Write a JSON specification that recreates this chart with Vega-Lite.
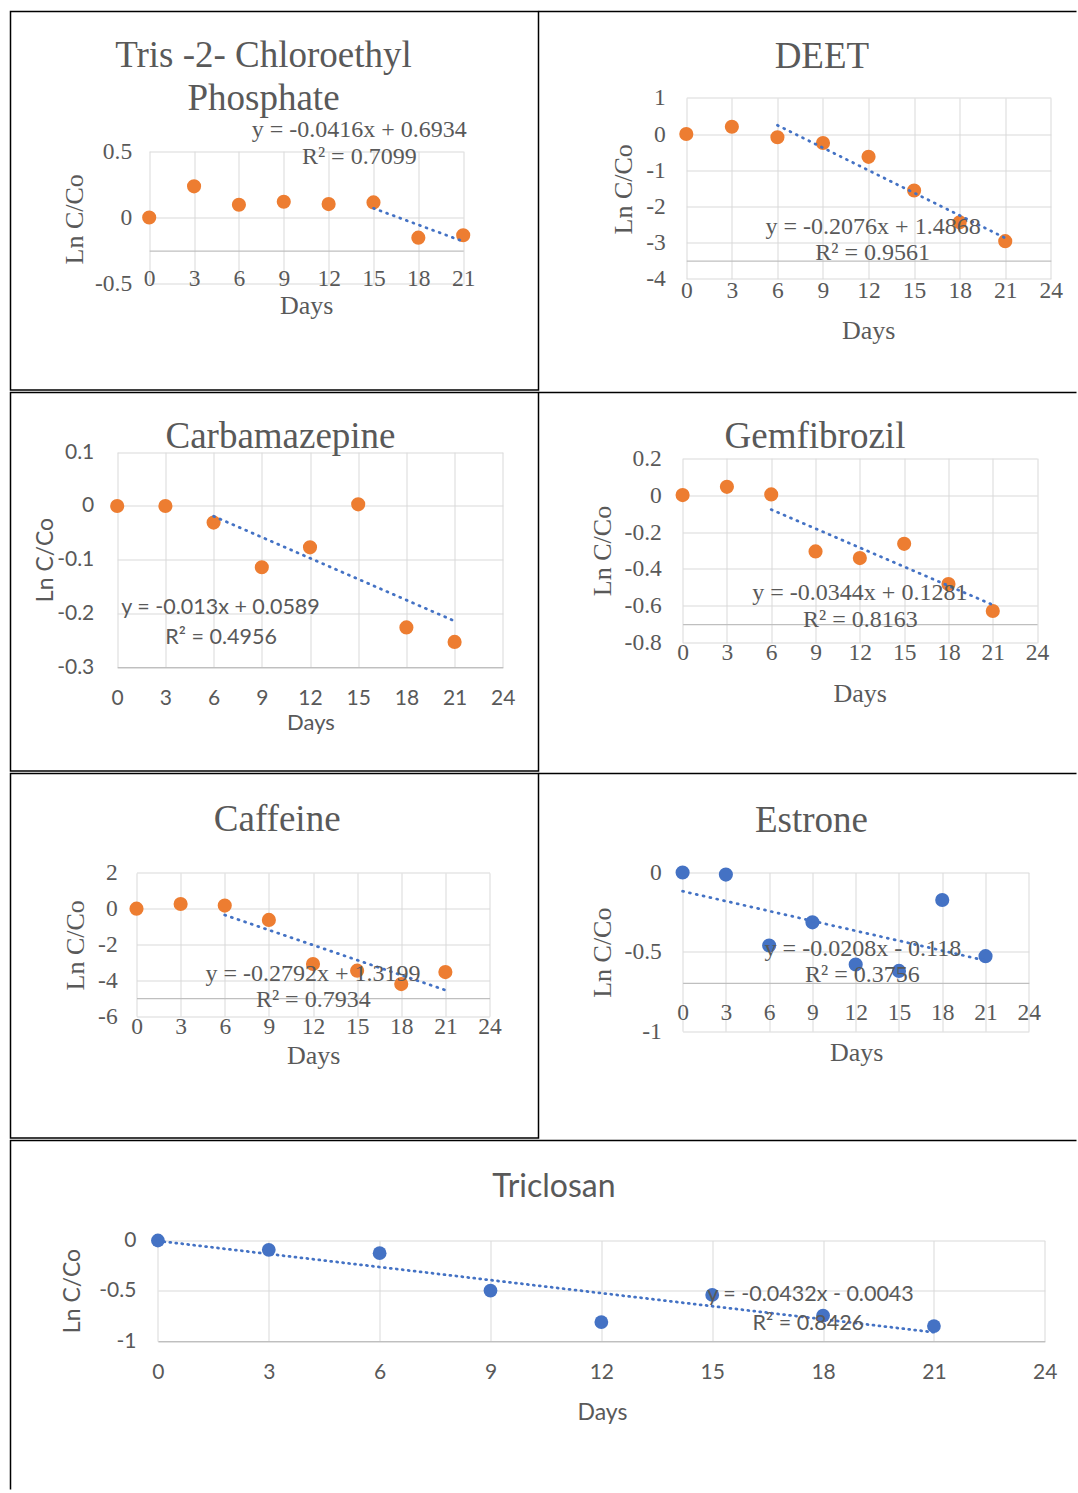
{
"$schema": "https://vega.github.io/schema/vega-lite/v6.json",
"padding": {"left": 9.5, "top": 10.5, "right": 0, "bottom": 0},
"background": "white",
"spacing": 0,
"vconcat": [
{"hconcat": [
{"width": 528, "height": 378.5,
 "view": {"stroke": "black", "strokeWidth": 1.5},
 "title": {"text": ["Tris -2- Chloroethyl", "Phosphate"], "anchor": "start", "frame": "group", "align": "center", "baseline": "alphabetic", "dx": 253, "dy": 136, "offset": 0, "lineHeight": 43.3, "font": "Liberation Serif", "fontSize": 37, "fontWeight": "normal", "color": "#595959"},
 "layer": [
  {"data": {"values": [{"day":0,"v":0},{"day":3,"v":0.235},{"day":6,"v":0.096},{"day":9,"v":0.119},{"day":12,"v":0.101},{"day":15,"v":0.114},{"day":18,"v":-0.152},{"day":21,"v":-0.134}]},
   "mark": {"type": "circle", "size": 200, "color": "#ED7D31", "opacity": 1},
   "encoding": {
    "x": {"field": "day", "type": "quantitative", "scale": {"domain": [0, 21], "range": [138.7, 452.7], "nice": false, "zero": false},
          "axis": {"orient": "top", "offset": -239.2, "values": [0,3,6,9,12,15,18,21], "format": "~g", "labelPadding": -28, "labelFont": "Liberation Serif", "labelFontSize": 23.5, "title": "Days", "titleX": 295.7, "titleY": 54.8, "titleFont": "Liberation Serif", "titleFontSize": 26}},
    "y": {"field": "v", "type": "quantitative", "scale": {"domain": [-0.5, 0.5], "range": [272.3, 139.7], "nice": false, "zero": false},
          "axis": {"orient": "left", "offset": -138.7, "values": [-0.5, 0, 0.5], "format": "~g", "labelPadding": 17.5, "labelFont": "Liberation Serif", "labelFontSize": 23.5, "title": "Ln C/Co", "titleX": -74.7, "titleY": 207.3, "titleFont": "Liberation Serif", "titleFontSize": 26}}
   }},
  {"data": {"values": [{"day":15,"v":0.0694},{"day":21,"v":-0.1802}]},
   "mark": {"type": "line", "color": "#4472C4", "strokeWidth": 2.75, "strokeDash": [1, 6], "strokeCap": "round"},
   "encoding": {
    "x": {"field": "day", "type": "quantitative", "scale": {"domain": [0, 21], "range": [138.7, 452.7], "nice": false, "zero": false}},
    "y": {"field": "v", "type": "quantitative", "scale": {"domain": [-0.5, 0.5], "range": [272.3, 139.7], "nice": false, "zero": false}}
   }},
  {"data": {"values": [{"day":14.05,"v":0.657,"label":"y = -0.0416x + 0.6934"},{"day":14.05,"v":0.455,"label":"R² = 0.7099"}]},
   "mark": {"type": "text", "font": "Liberation Serif", "fontSize": 24, "color": "#595959", "align": "center", "baseline": "middle"},
   "encoding": {
    "x": {"field": "day", "type": "quantitative", "scale": {"domain": [0, 21], "range": [138.7, 452.7], "nice": false, "zero": false}},
    "y": {"field": "v", "type": "quantitative", "scale": {"domain": [-0.5, 0.5], "range": [272.3, 139.7], "nice": false, "zero": false}},
    "text": {"field": "label"}
   }}
 ]},
{"width": 538, "height": 378.5,
 "view": {"stroke": "black", "strokeWidth": 1.5, "strokeDash": [538, 3000]},
 "title": {"text": "DEET", "anchor": "start", "frame": "group", "align": "center", "baseline": "alphabetic", "dx": 283.4, "dy": 93.3, "offset": 0, "font": "Liberation Serif", "fontSize": 37, "fontWeight": "normal", "color": "#595959"},
 "layer": [
  {"data": {"values": [{"day":0,"v":0},{"day":3,"v":0.2},{"day":6,"v":-0.09},{"day":9,"v":-0.25},{"day":12,"v":-0.63},{"day":15,"v":-1.56},{"day":18,"v":-2.44},{"day":21,"v":-2.96}]},
   "mark": {"type": "circle", "size": 200, "color": "#ED7D31", "opacity": 1},
   "encoding": {
    "x": {"field": "day", "type": "quantitative", "scale": {"domain": [0, 24], "range": [147.8, 512.3], "nice": false, "zero": false},
          "axis": {"orient": "top", "offset": -249.2, "values": [0,3,6,9,12,15,18,21,24], "format": "~g", "labelPadding": -29.8, "labelFont": "Liberation Serif", "labelFontSize": 23.5, "title": "Days", "titleX": 329.7, "titleY": 70, "titleFont": "Liberation Serif", "titleFontSize": 26}},
    "y": {"field": "v", "type": "quantitative", "scale": {"domain": [-4, 1], "range": [267.3, 86.3], "nice": false, "zero": false},
          "axis": {"orient": "left", "offset": -147.8, "values": [-4,-3,-2,-1,0,1], "format": "~g", "labelPadding": 21, "labelFont": "Liberation Serif", "labelFontSize": 23.5, "title": "Ln C/Co", "titleX": -62.8, "titleY": 177.3, "titleFont": "Liberation Serif", "titleFontSize": 26}}
   }},
  {"data": {"values": [{"day":6,"v":0.2412},{"day":21,"v":-2.8728}]},
   "mark": {"type": "line", "color": "#4472C4", "strokeWidth": 2.75, "strokeDash": [1, 6], "strokeCap": "round"},
   "encoding": {
    "x": {"field": "day", "type": "quantitative", "scale": {"domain": [0, 24], "range": [147.8, 512.3], "nice": false, "zero": false}},
    "y": {"field": "v", "type": "quantitative", "scale": {"domain": [-4, 1], "range": [267.3, 86.3], "nice": false, "zero": false}}
   }},
  {"data": {"values": [{"day":12.3,"v":-2.57,"label":"y = -0.2076x + 1.4868"},{"day":12.27,"v":-3.28,"label":"R² = 0.9561"}]},
   "mark": {"type": "text", "font": "Liberation Serif", "fontSize": 24, "color": "#595959", "align": "center", "baseline": "middle"},
   "encoding": {
    "x": {"field": "day", "type": "quantitative", "scale": {"domain": [0, 24], "range": [147.8, 512.3], "nice": false, "zero": false}},
    "y": {"field": "v", "type": "quantitative", "scale": {"domain": [-4, 1], "range": [267.3, 86.3], "nice": false, "zero": false}},
    "text": {"field": "label"}
   }}
 ]}
], "spacing": 0, "bounds": "flush"},
{"hconcat": [
{"width": 528, "height": 378.5,
 "view": {"stroke": "black", "strokeWidth": 1.5},
 "title": {"text": "Carbamazepine", "anchor": "start", "frame": "group", "align": "center", "baseline": "alphabetic", "dx": 270, "dy": 92.7, "offset": 0, "font": "Liberation Serif", "fontSize": 37, "fontWeight": "normal", "color": "#595959"},
 "layer": [
  {"data": {"values": [{"day":0,"v":0},{"day":3,"v":0},{"day":6,"v":-0.031},{"day":9,"v":-0.114},{"day":12,"v":-0.077},{"day":15,"v":0.003},{"day":18,"v":-0.226},{"day":21,"v":-0.253}]},
   "mark": {"type": "circle", "size": 200, "color": "#ED7D31", "opacity": 1},
   "encoding": {
    "x": {"field": "day", "type": "quantitative", "scale": {"domain": [0, 24], "range": [106.7, 492.3], "nice": false, "zero": false},
          "axis": {"orient": "top", "offset": -274.7, "values": [0,3,6,9,12,15,18,21,24], "format": "~g", "labelPadding": -31.6, "labelFont": "Lato", "labelFontSize": 21, "title": "Days", "titleX": 300, "titleY": 55, "titleFont": "Lato", "titleFontSize": 22}},
    "y": {"field": "v", "type": "quantitative", "scale": {"domain": [-0.3, 0.1], "range": [274.7, 59.7], "nice": false, "zero": false},
          "axis": {"orient": "left", "offset": -106.7, "values": [-0.3,-0.2,-0.1,0,0.1], "format": "~g", "labelPadding": 23.4, "labelFont": "Lato", "labelFontSize": 21, "title": "Ln C/Co", "titleX": -71.7, "titleY": 167, "titleFont": "Lato", "titleFontSize": 23}}
   }},
  {"data": {"values": [{"day":6,"v":-0.0191},{"day":21,"v":-0.2141}]},
   "mark": {"type": "line", "color": "#4472C4", "strokeWidth": 2.75, "strokeDash": [1, 6], "strokeCap": "round"},
   "encoding": {
    "x": {"field": "day", "type": "quantitative", "scale": {"domain": [0, 24], "range": [106.7, 492.3], "nice": false, "zero": false}},
    "y": {"field": "v", "type": "quantitative", "scale": {"domain": [-0.3, 0.1], "range": [274.7, 59.7], "nice": false, "zero": false}}
   }},
  {"data": {"values": [{"day":6.43,"v":-0.189,"label":"y = -0.013x + 0.0589"},{"day":6.47,"v":-0.245,"label":"R² = 0.4956"}]},
   "mark": {"type": "text", "font": "Lato", "fontSize": 21.5, "color": "#595959", "align": "center", "baseline": "middle"},
   "encoding": {
    "x": {"field": "day", "type": "quantitative", "scale": {"domain": [0, 24], "range": [106.7, 492.3], "nice": false, "zero": false}},
    "y": {"field": "v", "type": "quantitative", "scale": {"domain": [-0.3, 0.1], "range": [274.7, 59.7], "nice": false, "zero": false}},
    "text": {"field": "label"}
   }}
 ]},
{"width": 538, "height": 378.5,
 "view": {"stroke": "black", "strokeWidth": 1.5, "strokeDash": [538, 3000]},
 "title": {"text": "Gemfibrozil", "anchor": "start", "frame": "group", "align": "center", "baseline": "alphabetic", "dx": 276.5, "dy": 92.7, "offset": 0, "font": "Liberation Serif", "fontSize": 37, "fontWeight": "normal", "color": "#595959"},
 "layer": [
  {"data": {"values": [{"day":0,"v":0},{"day":3,"v":0.045},{"day":6,"v":0.004},{"day":9,"v":-0.305},{"day":12,"v":-0.341},{"day":15,"v":-0.264},{"day":18,"v":-0.482},{"day":21,"v":-0.628}]},
   "mark": {"type": "circle", "size": 200, "color": "#ED7D31", "opacity": 1},
   "encoding": {
    "x": {"field": "day", "type": "quantitative", "scale": {"domain": [0, 24], "range": [144.1, 498.6], "nice": false, "zero": false},
          "axis": {"orient": "top", "offset": -231.7, "values": [0,3,6,9,12,15,18,21,24], "format": "~g", "labelPadding": -28.6, "labelFont": "Liberation Serif", "labelFontSize": 23.5, "title": "Days", "titleX": 321.2, "titleY": 69, "titleFont": "Liberation Serif", "titleFontSize": 26}},
    "y": {"field": "v", "type": "quantitative", "scale": {"domain": [-0.8, 0.2], "range": [250.3, 65.7], "nice": false, "zero": false},
          "axis": {"orient": "left", "offset": -144.1, "values": [-0.8,-0.6,-0.4,-0.2,0,0.2], "format": "~g", "labelPadding": 21.3, "labelFont": "Liberation Serif", "labelFontSize": 23.5, "title": "Ln C/Co", "titleX": -80.3, "titleY": 158, "titleFont": "Liberation Serif", "titleFontSize": 26}}
   }},
  {"data": {"values": [{"day":6,"v":-0.0783},{"day":21,"v":-0.5943}]},
   "mark": {"type": "line", "color": "#4472C4", "strokeWidth": 2.75, "strokeDash": [1, 6], "strokeCap": "round"},
   "encoding": {
    "x": {"field": "day", "type": "quantitative", "scale": {"domain": [0, 24], "range": [144.1, 498.6], "nice": false, "zero": false}},
    "y": {"field": "v", "type": "quantitative", "scale": {"domain": [-0.8, 0.2], "range": [250.3, 65.7], "nice": false, "zero": false}}
   }},
  {"data": {"values": [{"day":12.0,"v":-0.531,"label":"y = -0.0344x + 0.1281"},{"day":12.04,"v":-0.675,"label":"R² = 0.8163"}]},
   "mark": {"type": "text", "font": "Liberation Serif", "fontSize": 24, "color": "#595959", "align": "center", "baseline": "middle"},
   "encoding": {
    "x": {"field": "day", "type": "quantitative", "scale": {"domain": [0, 24], "range": [144.1, 498.6], "nice": false, "zero": false}},
    "y": {"field": "v", "type": "quantitative", "scale": {"domain": [-0.8, 0.2], "range": [250.3, 65.7], "nice": false, "zero": false}},
    "text": {"field": "label"}
   }}
 ]}
], "spacing": 0, "bounds": "flush"},
{"hconcat": [
{"width": 528, "height": 364.5,
 "view": {"stroke": "black", "strokeWidth": 1.5},
 "title": {"text": "Caffeine", "anchor": "start", "frame": "group", "align": "center", "baseline": "alphabetic", "dx": 266.7, "dy": 94, "offset": 0, "font": "Liberation Serif", "fontSize": 37, "fontWeight": "normal", "color": "#595959"},
 "layer": [
  {"data": {"values": [{"day":0,"v":0},{"day":3,"v":0.26},{"day":6,"v":0.17},{"day":9,"v":-0.63},{"day":12,"v":-3.09},{"day":15,"v":-3.46},{"day":18,"v":-4.21},{"day":21,"v":-3.54}]},
   "mark": {"type": "circle", "size": 200, "color": "#ED7D31", "opacity": 1},
   "encoding": {
    "x": {"field": "day", "type": "quantitative", "scale": {"domain": [0, 24], "range": [126, 479], "nice": false, "zero": false},
          "axis": {"orient": "top", "offset": -224.7, "values": [0,3,6,9,12,15,18,21,24], "format": "~g", "labelPadding": -28, "labelFont": "Liberation Serif", "labelFontSize": 23.5, "title": "Days", "titleX": 302.7, "titleY": 57.3, "titleFont": "Liberation Serif", "titleFontSize": 26}},
    "y": {"field": "v", "type": "quantitative", "scale": {"domain": [-6, 2], "range": [242.7, 99.3], "nice": false, "zero": false},
          "axis": {"orient": "left", "offset": -126, "values": [-6,-4,-2,0,2], "format": "~g", "labelPadding": 19.3, "labelFont": "Liberation Serif", "labelFontSize": 23.5, "title": "Ln C/Co", "titleX": -61, "titleY": 171.3, "titleFont": "Liberation Serif", "titleFontSize": 26}}
   }},
  {"data": {"values": [{"day":6,"v":-0.3553},{"day":21,"v":-4.5433}]},
   "mark": {"type": "line", "color": "#4472C4", "strokeWidth": 2.75, "strokeDash": [1, 6], "strokeCap": "round"},
   "encoding": {
    "x": {"field": "day", "type": "quantitative", "scale": {"domain": [0, 24], "range": [126, 479], "nice": false, "zero": false}},
    "y": {"field": "v", "type": "quantitative", "scale": {"domain": [-6, 2], "range": [242.7, 99.3], "nice": false, "zero": false}}
   }},
  {"data": {"values": [{"day":12.0,"v":-3.65,"label":"y = -0.2792x + 1.3199"},{"day":12.02,"v":-5.09,"label":"R² = 0.7934"}]},
   "mark": {"type": "text", "font": "Liberation Serif", "fontSize": 24, "color": "#595959", "align": "center", "baseline": "middle"},
   "encoding": {
    "x": {"field": "day", "type": "quantitative", "scale": {"domain": [0, 24], "range": [126, 479], "nice": false, "zero": false}},
    "y": {"field": "v", "type": "quantitative", "scale": {"domain": [-6, 2], "range": [242.7, 99.3], "nice": false, "zero": false}},
    "text": {"field": "label"}
   }}
 ]},
{"width": 538, "height": 364.5,
 "view": {"stroke": "black", "strokeWidth": 1.5, "strokeDash": [538, 3000]},
 "title": {"text": "Estrone", "anchor": "start", "frame": "group", "align": "center", "baseline": "alphabetic", "dx": 273, "dy": 95, "offset": 0, "font": "Liberation Serif", "fontSize": 37, "fontWeight": "normal", "color": "#595959"},
 "layer": [
  {"data": {"values": [{"day":0,"v":0},{"day":3,"v":-0.013},{"day":6,"v":-0.46},{"day":9,"v":-0.314},{"day":12,"v":-0.58},{"day":15,"v":-0.62},{"day":18,"v":-0.173},{"day":21,"v":-0.527}]},
   "mark": {"type": "circle", "size": 200, "color": "#4472C4", "opacity": 1},
   "encoding": {
    "x": {"field": "day", "type": "quantitative", "scale": {"domain": [0, 24], "range": [144.1, 490.3], "nice": false, "zero": false},
          "axis": {"orient": "top", "offset": -209.3, "values": [0,3,6,9,12,15,18,21,24], "format": "~g", "labelPadding": -29.4, "labelFont": "Liberation Serif", "labelFontSize": 23.5, "title": "Days", "titleX": 317.7, "titleY": 69.4, "titleFont": "Liberation Serif", "titleFontSize": 26}},
    "y": {"field": "v", "type": "quantitative", "scale": {"domain": [-1, 0], "range": [257.7, 99], "nice": false, "zero": false},
          "axis": {"orient": "left", "offset": -144.1, "values": [-1,-0.5,0], "format": "~g", "labelPadding": 21.3, "labelFont": "Liberation Serif", "labelFontSize": 23.5, "title": "Ln C/Co", "titleX": -80.3, "titleY": 178.7, "titleFont": "Liberation Serif", "titleFontSize": 26}}
   }},
  {"data": {"values": [{"day":0,"v":-0.118},{"day":21,"v":-0.5548}]},
   "mark": {"type": "line", "color": "#4472C4", "strokeWidth": 2.75, "strokeDash": [1, 6], "strokeCap": "round"},
   "encoding": {
    "x": {"field": "day", "type": "quantitative", "scale": {"domain": [0, 24], "range": [144.1, 490.3], "nice": false, "zero": false}},
    "y": {"field": "v", "type": "quantitative", "scale": {"domain": [-1, 0], "range": [257.7, 99], "nice": false, "zero": false}}
   }},
  {"data": {"values": [{"day":12.5,"v":-0.479,"label":"y = -0.0208x - 0.118"},{"day":12.46,"v":-0.648,"label":"R² = 0.3756"}]},
   "mark": {"type": "text", "font": "Liberation Serif", "fontSize": 24, "color": "#595959", "align": "center", "baseline": "middle"},
   "encoding": {
    "x": {"field": "day", "type": "quantitative", "scale": {"domain": [0, 24], "range": [144.1, 490.3], "nice": false, "zero": false}},
    "y": {"field": "v", "type": "quantitative", "scale": {"domain": [-1, 0], "range": [257.7, 99], "nice": false, "zero": false}},
    "text": {"field": "label"}
   }}
 ]}
], "spacing": 0, "bounds": "flush"},
{"width": 1066, "height": 349,
 "view": {"stroke": "black", "strokeWidth": 1.5, "strokeDash": [1066, 1415, 349]},
 "title": {"text": "Triclosan", "anchor": "start", "frame": "group", "align": "center", "baseline": "alphabetic", "dx": 543.4, "dy": 88.7, "offset": 0, "font": "Lato", "fontSize": 32, "fontWeight": "normal", "color": "#595959"},
 "layer": [
  {"data": {"values": [{"day":0,"v":0},{"day":3,"v":-0.093},{"day":6,"v":-0.126},{"day":9,"v":-0.497},{"day":12,"v":-0.81},{"day":15,"v":-0.54},{"day":18,"v":-0.745},{"day":21,"v":-0.85}]},
   "mark": {"type": "circle", "size": 190, "color": "#4472C4", "opacity": 1},
   "encoding": {
    "x": {"field": "day", "type": "quantitative", "scale": {"domain": [0, 24], "range": [147.4, 1034.3], "nice": false, "zero": false},
          "axis": {"orient": "top", "offset": -200.7, "values": [0,3,6,9,12,15,18,21,24], "format": "~g", "labelPadding": -31.6, "labelFont": "Lato", "labelFontSize": 21, "title": "Days", "titleX": 591.5, "titleY": 71, "titleFont": "Lato", "titleFontSize": 23}},
    "y": {"field": "v", "type": "quantitative", "scale": {"domain": [-1, 0], "range": [200.7, 100], "nice": false, "zero": false},
          "axis": {"orient": "left", "offset": -147.4, "values": [-1,-0.5,0], "format": "~g", "labelPadding": 22, "labelFont": "Lato", "labelFontSize": 21, "title": "Ln C/Co", "titleX": -85.2, "titleY": 150, "titleFont": "Lato", "titleFontSize": 23}}
   }},
  {"data": {"values": [{"day":0,"v":-0.0043},{"day":21,"v":-0.9115}]},
   "mark": {"type": "line", "color": "#4472C4", "strokeWidth": 2.75, "strokeDash": [1, 5], "strokeCap": "round"},
   "encoding": {
    "x": {"field": "day", "type": "quantitative", "scale": {"domain": [0, 24], "range": [147.4, 1034.3], "nice": false, "zero": false}},
    "y": {"field": "v", "type": "quantitative", "scale": {"domain": [-1, 0], "range": [200.7, 100], "nice": false, "zero": false}}
   }},
  {"data": {"values": [{"day":17.66,"v":-0.54,"label":"y = -0.0432x - 0.0043"},{"day":17.6,"v":-0.83,"label":"R² = 0.8426"}]},
   "mark": {"type": "text", "font": "Lato", "fontSize": 21.5, "color": "#595959", "align": "center", "baseline": "middle"},
   "encoding": {
    "x": {"field": "day", "type": "quantitative", "scale": {"domain": [0, 24], "range": [147.4, 1034.3], "nice": false, "zero": false}},
    "y": {"field": "v", "type": "quantitative", "scale": {"domain": [-1, 0], "range": [200.7, 100], "nice": false, "zero": false}},
    "text": {"field": "label"}
   }}
 ]}
],
"config": {
 "view": {"stroke": null},
 "locale": {"number": {"decimal": ".", "thousands": ",", "grouping": [3], "currency": ["$", ""], "minus": "-"}},
 "axis": {"gridColor": "#D9D9D9", "gridWidth": 1, "domainColor": "#BFBFBF", "domainWidth": 1.3, "ticks": false, "tickSize": 0, "labelColor": "#595959", "titleColor": "#595959", "titleFontWeight": "normal", "labelFlush": false, "labelOverlap": false, "labelBound": false, "grid": true},
 "axisX": {"domain": true, "labelBaseline": "middle", "labelAlign": "center", "titleBaseline": "middle", "titleAlign": "center", "titleAngle": 0},
 "axisY": {"domain": false, "labelAlign": "right", "labelBaseline": "middle", "titleAngle": -90, "titleBaseline": "middle", "titleAlign": "center"}
}
}
